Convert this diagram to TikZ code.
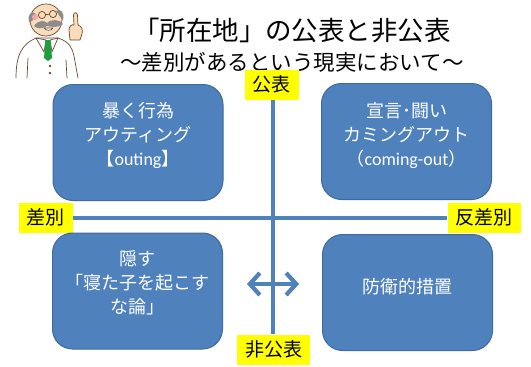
\documentclass[tikz,border=0pt]{standalone}
\usepackage{fontspec}
\setmainfont{Noto Sans CJK JP}
\newfontfamily\latinfont{Carlito}
\usetikzlibrary{arrows.meta}
\definecolor{quadblue}{HTML}{4F81BD}
\definecolor{quadedge}{HTML}{3D6A9E}
\definecolor{tagyellow}{HTML}{FFFF00}
\definecolor{skin}{HTML}{F8DCBC}
\definecolor{outline}{HTML}{6E4B2E}
\definecolor{hairgrey}{HTML}{8C8C8C}
\definecolor{tiegreen}{HTML}{1E9E3C}
\definecolor{cheek}{HTML}{F4A6A6}
\tikzset{
  quad/.style={draw=quadedge, line width=1pt, fill=quadblue, rounded corners=20pt,
    minimum width=170pt, minimum height=116pt},
  quadtext/.style={text=white, align=center, font=\fontsize{18}{24}\selectfont},
  tag/.style={fill=tagyellow, text=black, font=\fontsize{19}{22}\selectfont,
    inner xsep=8pt, minimum height=30pt},
  axis/.style={draw=quadblue, line width=4pt},
  swing/.style={draw=quadblue, line width=4pt,
    {Straight Barb[length=10pt,width=22pt,line width=4.2pt]}-{Straight Barb[length=10pt,width=22pt,line width=4.2pt]}},
  ink/.style={draw=outline, line width=0.7pt, line join=round, line cap=round},
}
\begin{document}
\begin{tikzpicture}[x=1pt,y=-1pt]
\useasboundingbox (0,0) rectangle (531,367);
\fill[white] (0,0) rectangle (531,367);

% --- professor pointing upward ---
\begin{scope}
  % lab coat
  \path[ink, fill=white] (16,78) .. controls (16,55) and (22,44) .. (36,38)
     -- (58,38) .. controls (70,42) and (72,48) .. (74,56) -- (78,78);
  \path[ink, fill=white] (36,38) -- (44,52) -- (46,40) -- cycle;
  \path[ink, fill=white] (58,38) -- (52,52) -- (50,40) -- cycle;
  % tie
  \fill[tiegreen] (45.5,40) -- (50.5,40) -- (52,58) -- (48,61) -- (44,58) -- cycle;
  \draw[ink] (28,58) -- (27,78);
  \draw[ink] (66,60) -- (67,78);
  \fill[outline] (50,66) circle (1.3) (50,73) circle (1.3);
  % raised hand with index finger
  \path[ink, fill=skin] (70,40) -- (69,30) .. controls (69,26) and (72,24) .. (74,25)
     -- (73.5,15) .. controls (74,12) and (77,12) .. (77.5,15) -- (78,25)
     .. controls (82,26) and (83,30) .. (82,34) -- (80,40) -- cycle;
  % head
  \path[ink, fill=skin] (46,20) circle (16);
  \fill[hairgrey] (29,22) .. controls (27,14) and (32,10) .. (36,14) .. controls (34,18) and (33,22) .. (29,22);
  \fill[hairgrey] (63,20) .. controls (65,12) and (60,8) .. (56,11) .. controls (59,14) and (60,18) .. (63,20);
  \fill[cheek] (35,17) circle (3);
  % glasses
  \draw[ink] (42,15) circle (3.6) (53,14) circle (3.6) (45.6,14.6) -- (49.4,14.2);
  % mustache and mouth
  \fill[hairgrey] (34,26) .. controls (38,20) and (45,20) .. (47,23) .. controls (50,19) and (60,19) .. (63,24)
     .. controls (58,28) and (52,27) .. (47,26) .. controls (42,29) and (37,29) .. (34,26);
  \path[ink, fill=white] (44,28) .. controls (46,31) and (51,31) .. (53,28) -- cycle;
\end{scope}

% --- title ---
\node[font=\fontsize{26.5}{28}\selectfont] (title) at (292,30) {「所在地」の公表と非公表};
\node[font=\fontsize{21.5}{24}\selectfont] (subtitle) at (292,62) {～差別があるという現実において～};

% --- axes ---
\node[tag] (top) at (271.5,84.5) {公表};
\node[tag] (bottom) at (273.5,349.5) {非公表};
\node[tag] (left) at (46,217.5) {差別};
\node[tag] (right) at (484,217.5) {反差別};
\draw[axis] (top.south -| 273,0) -- (bottom.north -| 273,0);
\draw[axis] (left.east) -- (right.west);

% --- quadrants ---
\node[quad] (tl) at (138,142.5) {};
\node[quad] (tr) at (406.5,141.5) {};
\node[quad] (bl) at (137.5,291) {};
\node[quad] (br) at (407.5,292.5) {};

\node[quadtext] (tlt) at (138,135) {暴く行為\\アウティング\\【{\latinfont outing}】};
\node[quadtext] (trt) at (406.5,135) {宣言･闘い\\カミングアウト\\（{\latinfont coming-out}）};
\node[quadtext] (blt) at (137.5,283) {隠す\\「寝た子を起こす\\な論」};
\node[quadtext] (brt) at (407.5,287) {防衛的措置};

% --- sideways double arrow on the vertical axis ---
\coordinate (swl) at (247,284);
\coordinate (swr) at (299,284);
\draw[swing] (swl) -- (swr);
\end{tikzpicture}
\end{document}
